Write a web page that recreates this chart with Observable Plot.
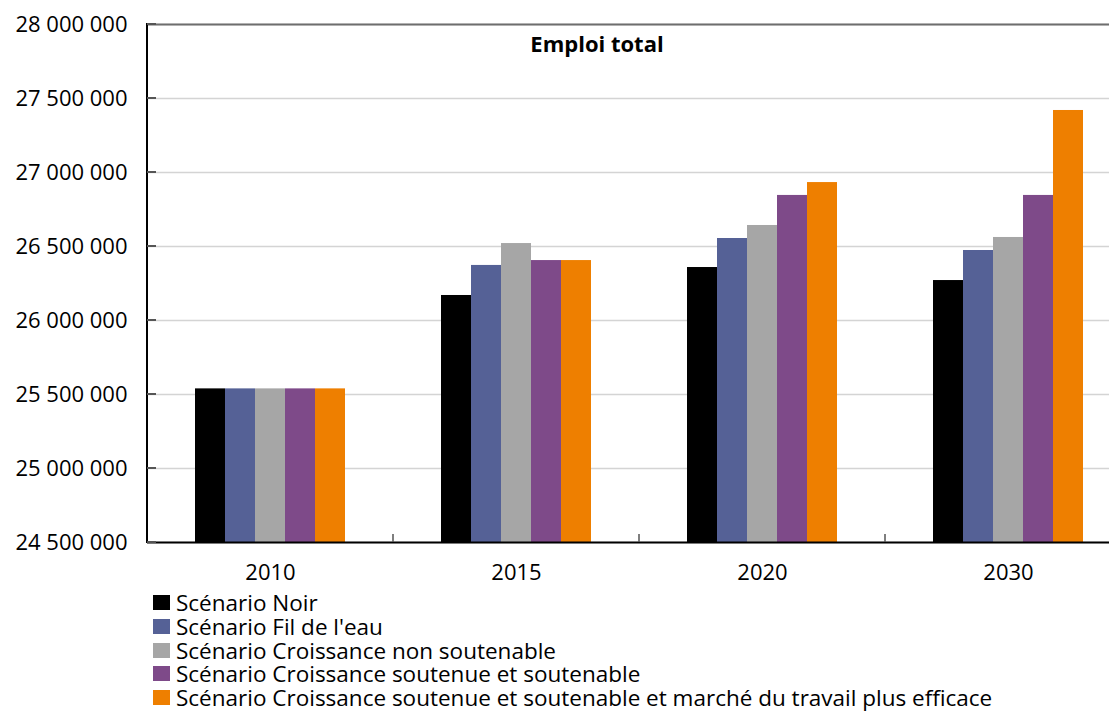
<!DOCTYPE html>
<html><head><meta charset="utf-8">
<script src="https://cdn.jsdelivr.net/npm/d3@7"></script>
<script src="https://cdn.jsdelivr.net/npm/@observablehq/plot@0.6"></script>
<style>
html,body{margin:0;background:#fff;overflow:hidden;}
body{font-family:"Open Sans",Lato,sans-serif;color:#000;}
#wrap{position:relative;width:1109px;height:711px;overflow:hidden;}
#chart svg{max-width:none !important;}
#title{position:absolute;top:28px;left:447px;width:300px;text-align:center;font-weight:bold;font-size:22px;line-height:30px;}
#legend{position:absolute;top:591px;left:153px;font-size:22.5px;}
.row{height:23.7px;display:flex;align-items:center;white-space:nowrap;overflow:visible;}
.row span{line-height:23px;display:block;}
.sw{width:17px;height:15px;margin-right:6px;flex:none;}
</style></head><body><div id="wrap"><div id="chart"></div><div id="title">Emploi total</div><div id="legend"></div></div>
<script>
const years = ["2010", "2015", "2020", "2030"];
const scenarios = [
  "Scénario Noir",
  "Scénario Fil de l'eau",
  "Scénario Croissance non soutenable",
  "Scénario Croissance soutenue et soutenable",
  "Scénario Croissance soutenue et soutenable et marché du travail plus efficace"
];
const colors = ["#000000", "#556196", "#a6a6a6", "#7e4a89", "#ee7f00"];
const noir      = [25538000, 26169000, 26358000, 26270000];
const filDeLeau = [25538000, 26372000, 26554000, 26473000];
const nonSout   = [25538000, 26520000, 26642000, 26561000];
const soutenue  = [25538000, 26405000, 26845000, 26845000];
const efficace  = [25538000, 26405000, 26932000, 27419000];
const yDomain = [24500000, 28000000];
const yTicks = [24500000, 25000000, 25500000, 26000000, 26500000, 27000000, 27500000, 28000000];

const series = [noir, filDeLeau, nonSout, soutenue, efficace];
const data = scenarios.flatMap((s, i) => years.map((yr, j) => ({year: yr, scenario: s, value: series[i][j]})));
const fmt = d3.formatLocale({thousands: "\u00a0", grouping: [3], decimal: ","}).format(",");

const plot = Plot.plot({
  width: 1140, height: 590,
  marginLeft: 147, marginRight: 9, marginTop: 24, marginBottom: 48,
  style: {fontFamily: "'Open Sans', Lato, sans-serif", fontSize: "22px", color: "#000", background: "#fff", overflow: "visible", maxWidth: "none"},
  fx: {domain: years, padding: 0, label: null},
  x: {domain: scenarios, axis: null, paddingInner: 0, paddingOuter: 1.49},
  y: {domain: yDomain},
  color: {domain: scenarios, range: colors},
  marks: [
    Plot.gridY(yTicks, {stroke: "#d4d4d4", strokeOpacity: 1, strokeWidth: 1.5}),
    Plot.barY(data, {fx: "year", x: "scenario", y1: () => yDomain[0], y2: "value", fill: "scenario"}),
    Plot.ruleY([yDomain[0]], {stroke: "#000", strokeWidth: 2}),
    Plot.ruleY([yDomain[1]], {stroke: "#6e6e6e", strokeWidth: 2}),
    Plot.axisY(yTicks, {tickSize: 0, tickPadding: 20, tickFormat: fmt, fontSize: 22, label: null}),
    Plot.axisFx({anchor: "bottom", tickSize: 0, tickPadding: 22, fontSize: 22, label: null})
  ]
});
document.getElementById("chart").appendChild(plot);

const svg = d3.select(plot);
const fx = plot.scale("fx"), y = plot.scale("y");
const xl = fx.range[0];
const yb = y.apply(yDomain[0]), yt = y.apply(yDomain[1]);
svg.append("line").attr("x1", xl).attr("x2", xl).attr("y1", yt - 1).attr("y2", yb + 1).attr("stroke", "#000").attr("stroke-width", 2);
yTicks.forEach(t => {
  svg.append("line").attr("x1", xl).attr("x2", xl + 9).attr("y1", y.apply(t)).attr("y2", y.apply(t)).attr("stroke", "#555").attr("stroke-width", 2);
});
years.slice(1).forEach(yr => {
  const bx = fx.apply(yr);
  svg.append("line").attr("x1", bx).attr("x2", bx).attr("y1", yb - 8).attr("y2", yb).attr("stroke", "#555").attr("stroke-width", 1.5);
});

const legend = d3.select("#legend");
scenarios.forEach((s, i) => {
  const r = legend.append("div").attr("class", "row");
  r.append("div").attr("class", "sw").style("background", colors[i]);
  r.append("span").text(s);
});
</script>
</body></html>
